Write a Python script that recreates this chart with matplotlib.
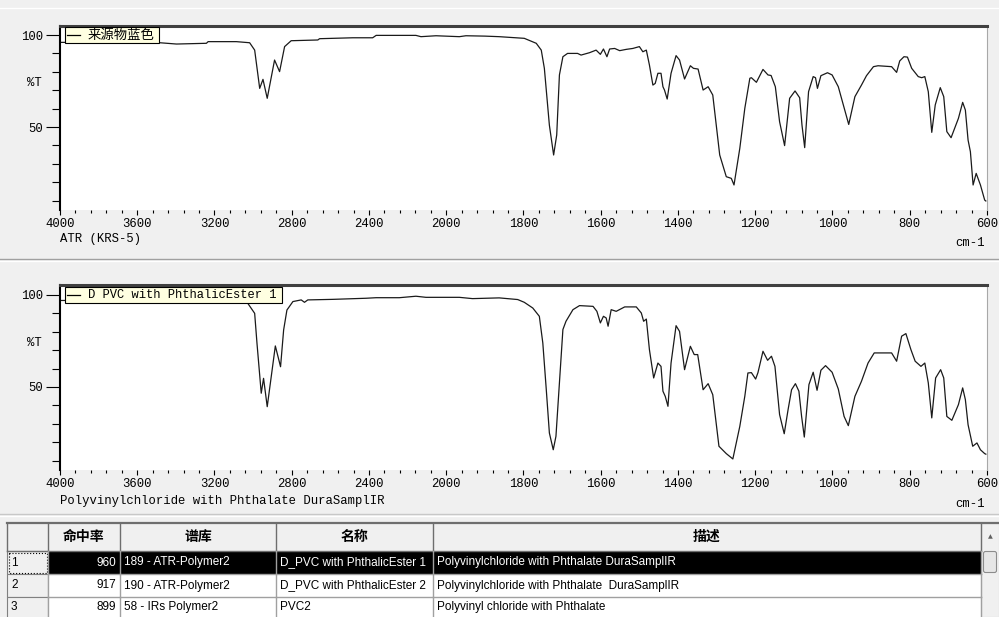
import matplotlib
matplotlib.use('Agg')
import matplotlib.pyplot as plt
import numpy as np
from matplotlib.patches import Rectangle, FancyBboxPatch

plt.rcParams['font.family'] = ['Liberation Mono', 'Noto Sans CJK SC', 'DejaVu Sans']

# spectrum of the sample (top)
top_wn = [4000, 3700, 3483, 3397, 3242, 3233, 3087, 3018, 2992, 2966, 2949, 2927, 2889, 2863,
          2837, 2803, 2665, 2656, 2484, 2381, 2363, 2157, 2131, 2053, 1966, 1949, 1900, 1863,
          1798, 1767, 1754, 1746, 1733, 1722, 1714, 1707, 1698, 1686, 1660, 1651, 1629, 1612,
          1601, 1593, 1584, 1577, 1564, 1551, 1534, 1517, 1500, 1491, 1482, 1474, 1465, 1459,
          1452, 1444, 1439, 1435, 1428, 1418, 1405, 1396, 1383, 1368, 1360, 1348, 1335, 1322,
          1310, 1301, 1292, 1275, 1262, 1255, 1240, 1227, 1214, 1210, 1197, 1180, 1167, 1159,
          1148, 1137, 1124, 1111, 1097, 1085, 1079, 1072, 1062, 1050, 1044, 1039, 1030, 1013,
          1001, 985, 972, 958, 942, 925, 912, 894, 882, 847, 834, 826, 815, 806, 795, 778,
          769, 761, 752, 743, 734, 721, 712, 704, 693, 674, 663, 656, 649, 643, 636, 628,
          617, 606, 603]
top_t = [96.0, 96.0, 95.8, 95.1, 95.5, 96.4, 96.4, 95.8, 91.8, 71.0, 75.9, 65.6, 86.4, 80.1,
         93.7, 96.9, 97.3, 98.0, 98.5, 98.5, 99.8, 99.8, 99.1, 99.6, 99.1, 99.6, 99.4, 99.1,
         98.2, 95.5, 91.8, 81.9, 51.0, 34.8, 45.7, 78.3, 88.2, 90.0, 90.0, 89.1, 90.4, 91.8,
         89.5, 92.4, 88.2, 92.4, 92.7, 91.5, 92.2, 92.7, 93.7, 90.9, 91.8, 83.7, 72.8, 73.7,
         79.2, 79.2, 71.9, 70.1, 65.2, 79.2, 88.8, 86.4, 76.1, 83.3, 81.9, 81.5, 70.1, 71.9,
         67.4, 51.0, 34.8, 23.0, 22.1, 18.5, 38.4, 60.2, 76.5, 76.8, 74.3, 81.3, 78.3, 78.0,
         71.9, 52.9, 39.9, 65.6, 69.6, 65.9, 51.0, 38.8, 69.2, 77.4, 76.8, 71.0, 77.9, 79.5,
         78.3, 71.9, 62.0, 51.4, 66.5, 72.8, 77.9, 82.8, 83.3, 82.8, 79.7, 85.9, 88.2, 88.0, 81.9, 77.4,
         76.8, 77.4, 69.2, 47.1, 62.0, 71.4, 66.5, 47.5, 44.2, 54.7, 63.4, 59.2, 42.9, 36.6, 18.5, 24.8,
         18.5, 10.3, 9.8]

# library hit (bottom)
bot_wn = [4000, 3100, 3028, 3010, 2992, 2980, 2958, 2946, 2927, 2906, 2885, 2858, 2842, 2825,
          2794, 2751, 2734, 2717, 2588, 2415, 2363, 2243, 2157, 2105, 1966, 1932, 1863, 1815,
          1798, 1776, 1759, 1750, 1741, 1733, 1723, 1716, 1707, 1698, 1690, 1672, 1655, 1620,
          1610, 1601, 1593, 1586, 1581, 1573, 1560, 1538, 1508, 1495, 1489, 1482, 1474, 1463,
          1452, 1444, 1439, 1433, 1426, 1418, 1405, 1396, 1383, 1368, 1358, 1349, 1335, 1322,
          1310, 1294, 1275, 1258, 1240, 1227, 1219, 1210, 1199, 1193, 1180, 1168, 1158, 1149,
          1137, 1125, 1115, 1106, 1096, 1087, 1080, 1073, 1061, 1050, 1040, 1030, 1018, 1001,
          985, 970, 959, 942, 925, 908, 892, 847, 834, 821, 810, 797, 786, 771, 761, 752,
          743, 733, 720, 712, 704, 691, 674, 663, 656, 649, 637, 626, 617, 606, 603]
bot_t = [97.0, 97.0, 95.5, 92.8, 90.0, 73.7, 46.6, 54.7, 39.3, 55.6, 72.3, 61.0, 81.0, 91.8,
         96.4, 97.3, 96.0, 97.3, 97.6, 98.2, 98.5, 98.5, 99.3, 98.7, 98.7, 98.0, 98.4, 97.5,
         96.0, 92.9, 88.4, 73.9, 48.5, 25.0, 15.9, 23.2, 52.2, 81.2, 85.7, 92.0, 94.2, 93.8,
         91.1, 84.8, 88.4, 87.5, 83.0, 92.0, 91.1, 93.5, 93.5, 90.2, 85.7, 86.9, 70.3, 54.9,
         63.0, 61.2, 47.7, 44.9, 39.5, 63.0, 83.3, 80.2, 59.4, 72.1, 67.6, 67.6, 48.5, 51.8,
         45.8, 17.8, 13.8, 10.9, 28.6, 45.0, 57.6, 57.8, 54.3, 57.8, 69.4, 64.5, 66.7, 61.2,
         35.0, 24.6, 37.7, 48.5, 51.8, 47.7, 34.0, 22.8, 51.3, 58.0, 48.2, 59.1, 61.6, 58.0,
         48.9, 34.0, 29.0, 44.9, 53.1, 63.0, 68.5, 68.5, 64.0, 77.6, 79.0, 70.3, 64.0, 61.2, 63.0, 52.2,
         33.2, 54.9, 59.4, 54.9, 34.0, 31.9, 40.4, 49.5, 43.1, 29.5, 17.8, 19.6, 15.9, 13.8, 13.5]

top_name = '来源物蓝色'
bot_name = 'D PVC with PhthalicEster 1'
top_note = 'ATR (KRS-5)'
bot_note = 'Polyvinylchloride with Phthalate DuraSamplIR'
major_wn = [4000, 3600, 3200, 2800, 2400, 2000, 1800, 1600, 1400, 1200, 1000, 800, 600]

headers = ['命中率', '谱库', '名称', '描述']
row_no = ['1', '2', '3']
hit = ['960', '917', '899']
library = ['189 - ATR-Polymer2', '190 - ATR-Polymer2', '58 - IRs Polymer2']
names = ['D_PVC with PhthalicEster 1', 'D_PVC with PhthalicEster 2', 'PVC2']
desc = ['Polyvinylchloride with Phthalate DuraSamplIR',
        'Polyvinylchloride with Phthalate  DuraSamplIR',
        'Polyvinyl chloride with Phthalate']

W, H = 999, 617


def fwd(w):
    w = np.asarray(w, dtype=float)
    return np.where(w <= 2000, w, 2000 + (w - 2000) / 2)


def inv(x):
    x = np.asarray(x, dtype=float)
    return np.where(x <= 2000, x, 2000 + (x - 2000) * 2)


def box(l, t, r, b):
    return [l / W, 1 - b / H, (r - l) / W, (b - t) / H]


fig = plt.figure(figsize=(W / 100, H / 100), dpi=100, facecolor='#f0f0f0')

minor_wn = [v for v in np.arange(4000, 2000, -80) if v % 400] + \
           [v for v in np.arange(2000, 600, -40) if v % 200]

panels = [(box(60, 26, 987, 210), top_wn, top_t, (4.9, 104.9)),
          (box(60, 285, 987, 470), bot_wn, bot_t, (4.9, 105.4))]
for rect, wn, t, ylim in panels:
    ax = fig.add_axes(rect)
    ax.plot(wn, t, color='#1a1a1a', lw=0.9)
    ax.set_xscale('function', functions=(fwd, inv))
    ax.set_xlim(4000, 600)
    ax.set_ylim(*ylim)
    ax.set_xticks(major_wn, [str(v) for v in major_wn])
    ax.set_xticks(minor_wn, minor=True)
    ax.set_yticks([50, 100], ['50', '100'])
    ax.set_yticks([10, 20, 30, 40, 60, 70, 80, 90], minor=True)
    ax.tick_params(axis='x', which='major', length=3.5, width=0.8, pad=2.5, labelsize=8.8)
    ax.tick_params(axis='x', which='minor', length=2, width=0.8)
    ax.tick_params(axis='y', which='major', length=10, width=0.8, pad=2, labelsize=8.8)
    ax.tick_params(axis='y', which='minor', length=5.8, width=0.8)
    ax.spines['left'].set_linewidth(1.5)
    ax.spines['top'].set_linewidth(2.2)
    ax.spines['top'].set_color('#404040')
    ax.spines['right'].set_linewidth(0.8)
    ax.spines['right'].set_color('#a8a8a8')
    ax.spines['bottom'].set_visible(False)
    ax.text(-0.0195, 74, '%T', transform=ax.get_yaxis_transform(), ha='right', va='center',
            fontsize=8.8)

# overlay in pixel coordinates for labels, separators and the hit table
ov = fig.add_axes([0, 0, 1, 1], zorder=10)
ov.set_xlim(0, W)
ov.set_ylim(H, 0)
ov.axis('off')
ov.patch.set_alpha(0)

# legend boxes
for (y0, x1), name, fs, fam in [((35, 159), top_name, 9.6, 'Noto Sans CJK SC'),
                                 ((295, 282), bot_name, 8.7, 'Liberation Mono')]:
    ov.add_patch(Rectangle((64.5, y0 - 8), x1 - 64.5, 16, fc='#ffffe1', ec='black', lw=0.8))
    ov.plot([67, 80], [y0, y0], color='black', lw=0.9)
    ov.text(88, y0, name, ha='left', va='center', fontsize=fs, family=fam)

ov.text(60, 239, top_note, ha='left', va='center', fontsize=8.8)
ov.text(985, 243, 'cm-1', ha='right', va='center', fontsize=8.8)
ov.text(60, 501, bot_note, ha='left', va='center', fontsize=8.8)
ov.text(985, 504, 'cm-1', ha='right', va='center', fontsize=8.8)

ov.plot([0, W], [258.5, 258.5], color='#a0a0a0', lw=1)
ov.plot([0, W], [260.5, 260.5], color='white', lw=1)
ov.plot([0, W], [514, 514], color='#c8c8c8', lw=1)
ov.plot([0, W], [516, 516], color='white', lw=1)
ov.plot([0, W], [7.5, 7.5], color='white', lw=1)

# table
col_x = [7, 48, 120, 276, 433, 981]
row_y = [551, 574, 597, 620]
tab_font = 'Liberation Sans'
tab_fs = 8.5
ov.add_patch(Rectangle((7, 523), 974, 28, fc='#f0f0f0', ec='none'))
ov.plot([7, W], [522.5, 522.5], color='#6e6e6e', lw=1.6)
ov.plot([7, 981], [550.5, 550.5], color='#6e6e6e', lw=1)
for x in col_x:
    ov.plot([x, x], [523, 551], color='#6e6e6e', lw=1)
for i, h in enumerate(headers):
    ov.text((col_x[i + 1] + col_x[i + 2]) / 2, 537, h, ha='center', va='center',
            fontsize=10, fontweight='bold', family='Noto Sans CJK SC')

for r in range(3):
    top, bot = row_y[r], row_y[r + 1]
    sel = r == 0
    ov.add_patch(Rectangle((7, top), 41, bot - top, fc='#f0f0f0', ec='#808080', lw=0.8))
    ov.add_patch(Rectangle((48, top), 933, bot - top, fc='black' if sel else 'white',
                           ec='none'))
    ov.plot([48, 981], [bot - 0.5, bot - 0.5], color='#a0a0a0', lw=1)
    for x in col_x[1:]:
        ov.plot([x, x], [top, bot], color='#a0a0a0', lw=1)
    c = 'white' if sel else 'black'
    ym = (top + bot) / 2 if r < 2 else 607
    ov.text(11, ym, row_no[r], ha='left', va='center', fontsize=tab_fs, family=tab_font)
    ov.text(116, ym, hit[r], ha='right', va='center', fontsize=tab_fs, color=c, family=tab_font)
    ov.text(124, ym, library[r], ha='left', va='center', fontsize=tab_fs, color=c,
            family=tab_font)
    ov.text(280, ym, names[r], ha='left', va='center', fontsize=tab_fs, color=c, family=tab_font)
    ov.text(437, ym, desc[r], ha='left', va='center', fontsize=tab_fs, color=c, family=tab_font)
ov.add_patch(Rectangle((8.5, 552.5), 38, 20, fill=False, ec='black', lw=0.8, ls=':'))

# scrollbar
ov.add_patch(Rectangle((981, 523), 18, 94, fc='#f0f0f0', ec='#c8c8c8', lw=0.8))
ov.text(990, 537, '▲', ha='center', va='center', fontsize=4.5, color='#606060',
        family='DejaVu Sans')
ov.add_patch(FancyBboxPatch((984, 552), 12, 20, boxstyle='round,pad=0.5,rounding_size=2',
                            fc='#e6e6e6', ec='#8c8c8c', lw=0.8))

fig.savefig('out.png', dpi=100, facecolor=fig.get_facecolor())
